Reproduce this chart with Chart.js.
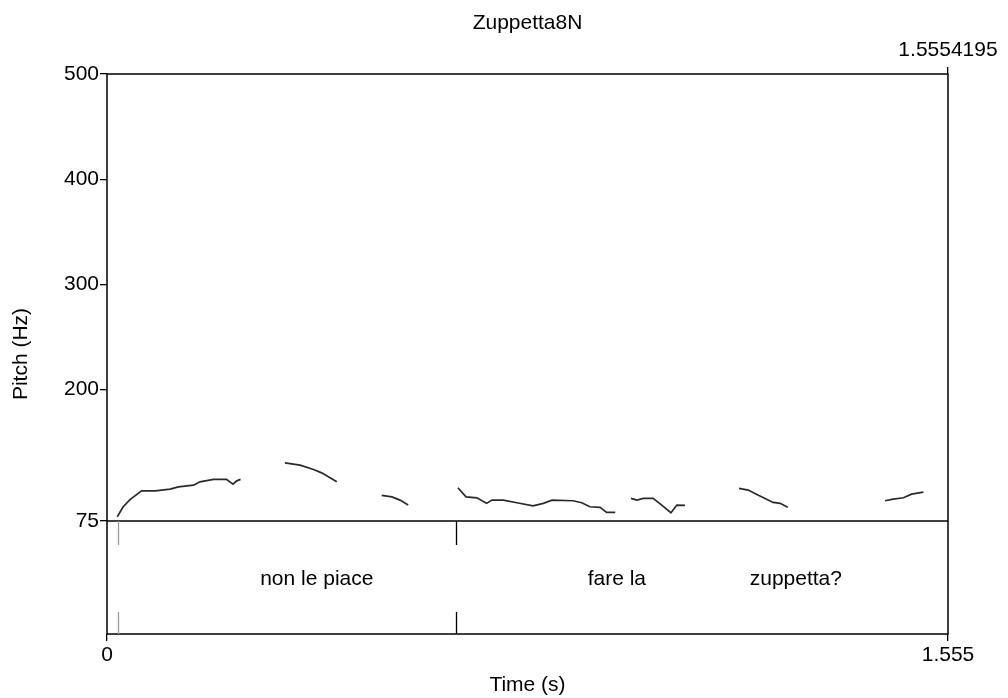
<!DOCTYPE html>
<html>
<head>
<meta charset="utf-8">
<title>Zuppetta8N</title>
<script src="https://cdn.jsdelivr.net/npm/chart.js@4.4.1/dist/chart.umd.min.js"></script>
<style>
  html, body { margin: 0; padding: 0; background: #ffffff; }
  #wrap { width: 1008px; height: 698px; position: relative; }
</style>
</head>
<body>
<div id="wrap"><canvas id="pitch-chart"></canvas></div>
<script>
// pitch contour pieces, [time (s), pitch (Hz)]
var pitchSeg1 = [[0.019, 79.1], [0.030, 88.6], [0.043, 95.6], [0.064, 103.7], [0.089, 103.7], [0.117, 105.4], [0.132, 107.5], [0.160, 109.1], [0.172, 112.3], [0.197, 114.6], [0.221, 114.6], [0.233, 110.1], [0.240, 113.2], [0.247, 114.6]];
var pitchSeg2 = [[0.329, 130.3], [0.357, 128.1], [0.382, 124.0], [0.397, 120.8], [0.425, 112.3]];
var pitchSeg3 = [[0.508, 99.4], [0.527, 98.0], [0.542, 94.9], [0.557, 90.2]];
var pitchSeg4 = [[0.649, 106.6], [0.664, 98.0], [0.684, 97.1], [0.702, 91.8], [0.712, 94.9], [0.733, 94.9], [0.758, 92.4], [0.788, 89.5], [0.807, 91.8], [0.823, 94.9], [0.862, 94.3], [0.878, 92.4], [0.893, 88.6], [0.912, 88.0], [0.924, 83.2], [0.940, 83.2]];
var pitchSeg5 = [[0.969, 96.5], [0.980, 94.9], [0.992, 96.5], [1.010, 96.5], [1.026, 90.2], [1.043, 82.9], [1.054, 90.2], [1.069, 89.9]];
var pitchSeg6 = [[1.169, 106.0], [1.186, 104.4], [1.202, 100.3], [1.217, 96.5], [1.232, 92.7], [1.245, 91.8], [1.259, 88.0]];
var pitchSeg7 = [[1.439, 94.3], [1.454, 95.9], [1.473, 97.1], [1.488, 100.6], [1.510, 102.5]];

// text tier
var tierBoundaries = [0.0203, 0.6455];
var tierLabels = ['non le piace', 'fare la', 'zuppetta?'];
var tierLabelTimes = [0.388, 0.943, 1.274];

// axes
var timeEnd = 1.5554195;
var pitchFloor = 75;
var pitchCeiling = 500;
var yTickValues = [500, 400, 300, 200, 75];
var xTickValues = [0, 1.5554195];
var xTickLabels = ['0', '1.555'];
var topTickLabel = '1.5554195';

(function () {
  var FONT = { family: '"Liberation Sans", Arial, sans-serif', size: 21 };
  var INK = '#000000';
  // pitch axis continues below 75 Hz so the tier fits under the plot
  var Y_MIN = -32.4;

  function toPoints(seg) {
    return seg.map(function (p) {
      return { x: p[0], y: p[1] };
    });
  }

  function segDataset(seg) {
    return {
      data: toPoints(seg),
      showLine: true,
      borderColor: '#2a2a2a',
      borderWidth: 1.7,
      pointRadius: 0,
      tension: 0,
      fill: false
    };
  }

  var frameAndTier = {
    id: 'frameAndTier',
    afterDraw: function (chart) {
      var ctx = chart.ctx;
      var area = chart.chartArea;
      var xs = chart.scales.x;
      var ys = chart.scales.y;
      var floorY = ys.getPixelForValue(pitchFloor);

      ctx.save();
      ctx.strokeStyle = INK;
      ctx.lineWidth = 1.5;
      ctx.strokeRect(area.left, area.top, area.right - area.left, area.bottom - area.top);

      ctx.beginPath();
      ctx.moveTo(area.left, floorY);
      ctx.lineTo(area.right, floorY);
      ctx.stroke();

      // boundaries are drawn with a gap where the text sits
      tierBoundaries.forEach(function (t, i) {
        var px = Math.round(xs.getPixelForValue(t)) + 0.5;
        ctx.strokeStyle = i === 0 ? '#9a9a9a' : INK;
        ctx.lineWidth = 1.3;
        ctx.beginPath();
        ctx.moveTo(px, floorY);
        ctx.lineTo(px, floorY + 24);
        ctx.moveTo(px, area.bottom - 22);
        ctx.lineTo(px, area.bottom);
        ctx.stroke();
      });

      ctx.fillStyle = INK;
      ctx.font = FONT.size + 'px ' + FONT.family;
      ctx.textAlign = 'center';
      ctx.textBaseline = 'middle';
      var midY = (floorY + area.bottom) / 2 + 2;
      tierLabels.forEach(function (label, i) {
        ctx.fillText(label, xs.getPixelForValue(tierLabelTimes[i]), midY);
      });
      ctx.restore();
    }
  };

  var tickGrid = {
    display: true,
    drawOnChartArea: false,
    drawTicks: true,
    tickLength: 7,
    color: INK,
    lineWidth: 1.3
  };

  new Chart(document.getElementById('pitch-chart'), {
    type: 'scatter',
    data: {
      datasets: [pitchSeg1, pitchSeg2, pitchSeg3, pitchSeg4, pitchSeg5, pitchSeg6, pitchSeg7].map(segDataset)
    },
    options: {
      responsive: true,
      maintainAspectRatio: false,
      animation: false,
      layout: { padding: { left: 0, right: 60, top: 0, bottom: 0 } },
      plugins: {
        legend: { display: false },
        tooltip: { enabled: false }
      },
      scales: {
        x: {
          type: 'linear',
          position: 'bottom',
          min: 0,
          max: timeEnd,
          afterBuildTicks: function (scale) {
            scale.ticks = xTickValues.map(function (v) { return { value: v }; });
          },
          afterFit: function (scale) { scale.height = 64; },
          ticks: {
            autoSkip: false,
            maxRotation: 0,
            padding: 2,
            color: INK,
            font: FONT,
            callback: function (value, index) { return xTickLabels[index]; }
          },
          grid: tickGrid,
          border: { display: false },
          title: {
            display: true,
            text: 'Time (s)',
            color: INK,
            font: FONT,
            padding: { top: 0, bottom: 0 }
          }
        },
        x2: {
          type: 'linear',
          position: 'top',
          min: 0,
          max: timeEnd,
          afterBuildTicks: function (scale) {
            scale.ticks = [{ value: timeEnd }];
          },
          afterFit: function (scale) { scale.height = 74; },
          ticks: {
            autoSkip: false,
            maxRotation: 0,
            padding: 4,
            color: INK,
            font: FONT,
            callback: function () { return topTickLabel; }
          },
          grid: tickGrid,
          border: { display: false },
          title: {
            display: true,
            text: 'Zuppetta8N',
            color: INK,
            font: FONT,
            padding: { top: 11, bottom: 0 }
          }
        },
        y: {
          type: 'linear',
          position: 'left',
          min: Y_MIN,
          max: pitchCeiling,
          afterBuildTicks: function (scale) {
            scale.ticks = yTickValues.map(function (v) { return { value: v }; });
          },
          afterFit: function (scale) { scale.width = 107; },
          ticks: {
            autoSkip: false,
            padding: 1,
            color: INK,
            font: FONT
          },
          grid: tickGrid,
          border: { display: false },
          title: {
            display: true,
            text: 'Pitch (Hz)',
            color: INK,
            font: FONT,
            padding: { top: 9, bottom: 0 }
          }
        }
      }
    },
    plugins: [frameAndTier]
  });
})();
</script>
</body>
</html>
